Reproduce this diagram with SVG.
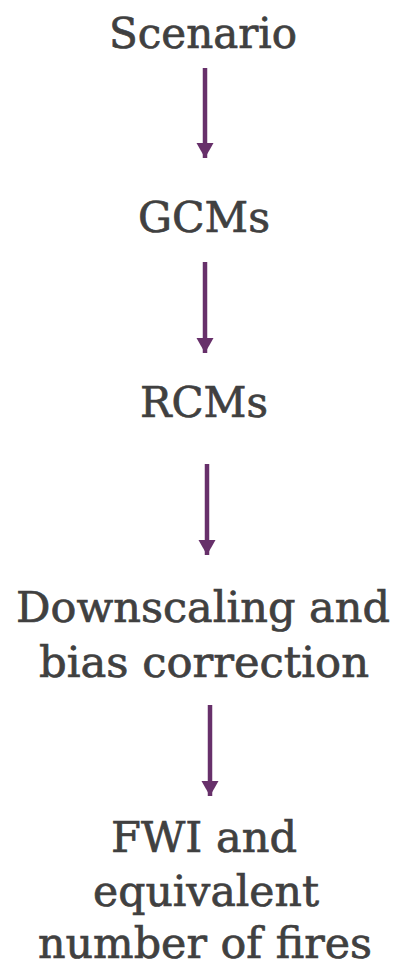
<svg xmlns="http://www.w3.org/2000/svg" width="399" height="968" viewBox="0 0 399 968">
<style>
text{font-family:"DejaVu Serif","Liberation Serif",serif;font-size:43px;fill:#404040;stroke:#404040;stroke-width:0.7;text-anchor:middle}
.c line{stroke:#67306A;stroke-width:4.5}
</style>
<defs>
<marker id="ah" markerUnits="userSpaceOnUse" markerWidth="16" markerHeight="18" refX="15" refY="9" orient="auto">
<path d="M0,0.5 L15,9 L0,17.5 Z" fill="#67306A"/>
</marker>
</defs>
<rect width="399" height="968" fill="#ffffff"/>
<g id="scenario"><text x="203" y="48" textLength="188" lengthAdjust="spacingAndGlyphs">Scenario</text></g>
<g id="gcms"><text x="204" y="232" textLength="132" lengthAdjust="spacingAndGlyphs">GCMs</text></g>
<g id="rcms"><text x="204" y="417" textLength="128" lengthAdjust="spacingAndGlyphs">RCMs</text></g>
<g id="downscaling">
<text x="203" y="622" textLength="374" lengthAdjust="spacingAndGlyphs">Downscaling and</text>
<text x="204" y="677" textLength="330" lengthAdjust="spacingAndGlyphs">bias correction</text>
</g>
<g id="fwi">
<text x="204" y="852" textLength="186" lengthAdjust="spacingAndGlyphs">FWI and</text>
<text x="206" y="906" textLength="226" lengthAdjust="spacingAndGlyphs">equivalent</text>
<text x="205" y="958" textLength="334" lengthAdjust="spacingAndGlyphs">number of fires</text>
</g>
<g class="c" id="connectors">
<line x1="205" y1="68" x2="205" y2="158" marker-end="url(#ah)"/>
<line x1="205" y1="262" x2="205" y2="353" marker-end="url(#ah)"/>
<line x1="207" y1="464" x2="207" y2="555" marker-end="url(#ah)"/>
<line x1="210" y1="705" x2="210" y2="796" marker-end="url(#ah)"/>
</g>
</svg>
